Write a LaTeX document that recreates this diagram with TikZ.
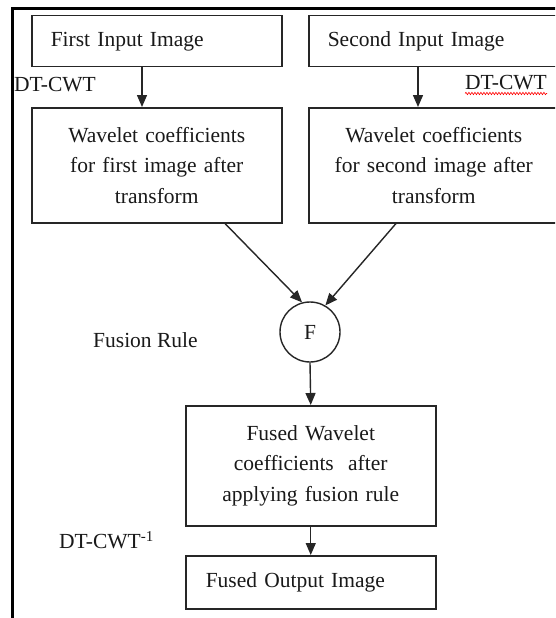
\documentclass[tikz,border=0pt]{standalone}
\usepackage{fontspec}
\setmainfont{Liberation Serif}
\usetikzlibrary{arrows.meta,decorations.pathmorphing}
\begin{document}
\begin{tikzpicture}[x=1pt,y=-1pt,
  txt/.style={inner sep=0pt, font=\fontsize{21.5}{30.5}\selectfont, text=black!90},
  box/.style={txt, draw=black!85, line width=1.5pt, rectangle},
  arr/.style={draw=black!85, line width=1.4pt, -{Triangle[length=12pt,width=10pt]}}
]
\useasboundingbox (0,0) rectangle (555,618);
\clip (0,0) rectangle (555,618);
\fill[white] (0,0) rectangle (555,618);
\draw[line width=3pt] (12,640) -- (12,9) -- (580,9);

\node[box, anchor=north west, inner xsep=19pt, text width=212pt, minimum height=51pt, align=left] (b1) at (31,15) {First Input Image};
\node[box, anchor=north west, inner xsep=19pt, text width=262pt, minimum height=51pt, align=left] (b2) at (308,15) {Second Input Image};

\node[box, anchor=north west, text width=250pt, minimum height=115pt, align=center] (b3) at (31,107) {Wavelet coefficients\\for first image after\\transform};
\node[box, anchor=north west, text width=250pt, minimum height=115pt, align=center] (b4) at (308,107) {Wavelet coefficients\\for second image after\\transform};

\node[txt, draw=black!85, line width=1.4pt, circle, minimum size=60pt] (F) at (310,332) {F};

\node[box, anchor=north west, text width=250pt, minimum height=120pt, align=center] (b5) at (185,405) {Fused Wavelet\\coefficients\ \ after\\applying fusion rule};
\node[box, anchor=north west, inner xsep=20pt, text width=210pt, minimum height=53pt, align=left] (b6) at (185,555) {Fused Output Image};

\node[txt, anchor=west] (dtl) at (14,85) {DT-CWT};
\node[txt, anchor=west] (dtr) at (465,83) {DT-CWT};
\node[txt, anchor=west] (fr) at (93,340) {Fusion Rule};
\node[txt, anchor=west] (dti) at (59,540) {DT-CWT\textsuperscript{-1}};

\draw[red, line width=0.6pt, decorate, decoration={snake, amplitude=1.2pt, segment length=3pt}] ([yshift=-3pt]dtr.south west) -- ([yshift=-3pt]dtr.south east);

\draw[arr] ([xshift=111pt]b1.south west) -- ([xshift=111pt]b3.north west);
\draw[arr] ([xshift=110pt]b2.south west) -- ([xshift=110pt]b4.north west);
\draw[arr] ([xshift=194pt]b3.south west) -- (F.105);
\draw[arr] ([xshift=88pt]b4.south west) -- (F.60);
\draw[arr] (F.south) -- (b5.north);
\draw[arr] (b5.south) -- (b6.north);
\end{tikzpicture}
\end{document}
